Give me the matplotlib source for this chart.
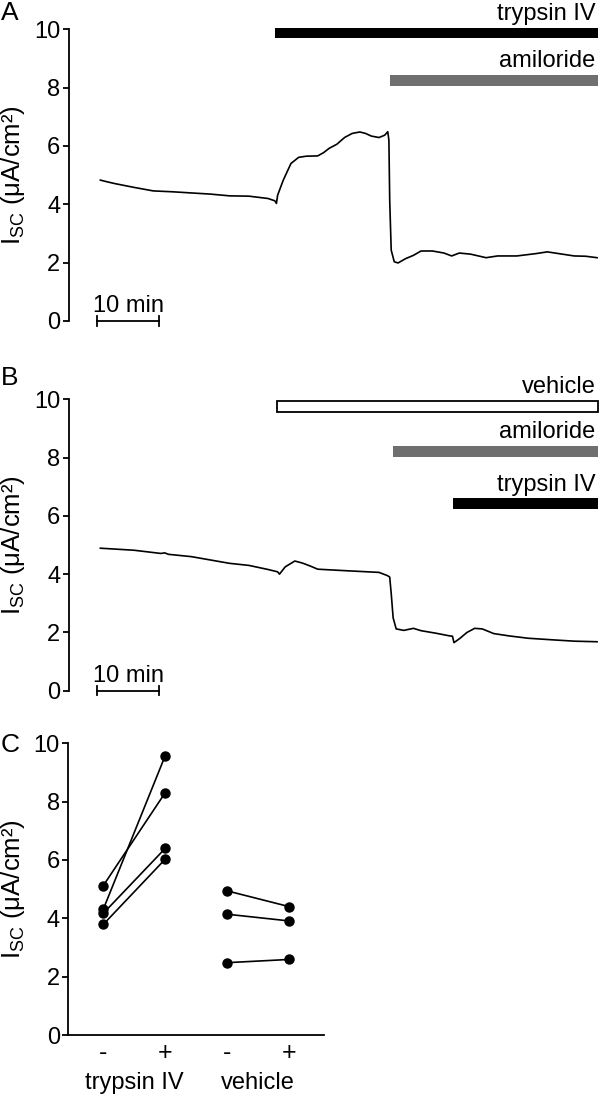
#!/usr/bin/env python3
from matplotlib import pyplot as plt

plt.rcParams['font.family'] = ['Liberation Sans', 'DejaVu Sans']
plt.rcParams['mathtext.default'] = 'regular'

# ---- panel A: trypsin IV then amiloride (time in min, Isc in uA/cm2)
a_time = [0.55, 1.66, 2.88, 5.95, 9.02, 12.08, 15.15, 18.22, 21.28, 24.35, 27.42,
          28.52, 28.77, 28.96, 29.87, 31.10, 32.33, 33.55, 35.39, 36.32, 37.23,
          38.46, 39.69, 40.91, 42.14, 43.06, 43.98, 45.21, 46.13, 46.62, 46.80,
          46.93, 47.17, 47.66, 48.27, 49.50, 50.73, 51.95, 53.79, 55.63, 56.86,
          58.09, 59.93, 62.38, 64.22, 67.30, 70.36, 72.20, 74.04, 76.50, 78.33, 80.17]
a_isc = [4.83, 4.77, 4.71, 4.58, 4.46, 4.43, 4.39, 4.35, 4.29, 4.28, 4.20,
         4.12, 4.03, 4.31, 4.83, 5.40, 5.61, 5.65, 5.66, 5.77, 5.92,
         6.06, 6.29, 6.43, 6.48, 6.43, 6.34, 6.29, 6.37, 6.49, 6.20,
         4.14, 2.43, 2.03, 1.99, 2.14, 2.25, 2.40, 2.40, 2.33, 2.23,
         2.33, 2.29, 2.17, 2.23, 2.23, 2.31, 2.37, 2.31, 2.23, 2.22, 2.17]

# ---- panel B: vehicle, amiloride, then trypsin IV
b_time = [0.55, 2.88, 5.95, 10.25, 10.86, 11.47, 15.15, 21.28, 24.35, 27.42,
          28.96, 29.26, 30.18, 31.72, 32.94, 34.17, 35.39, 39.69, 43.37, 45.21,
          46.56, 46.93, 47.17, 47.48, 47.97, 49.20, 50.73, 51.95, 54.41, 56.56,
          56.99, 57.23, 58.09, 59.32, 60.55, 61.77, 63.61, 66.07, 69.13, 73.43,
          76.50, 80.17]
b_isc = [4.89, 4.86, 4.82, 4.71, 4.73, 4.68, 4.60, 4.37, 4.30, 4.16,
         4.08, 4.00, 4.25, 4.45, 4.38, 4.28, 4.17, 4.12, 4.08, 4.06,
         3.95, 3.90, 3.34, 2.50, 2.12, 2.07, 2.14, 2.06, 1.97, 1.88,
         1.87, 1.65, 1.78, 2.00, 2.14, 2.12, 1.96, 1.88, 1.80, 1.74,
         1.70, 1.68]

# treatment bars: (label, start min, end min, level, style)
a_bars = [('trypsin IV', 28.6, 80.3, 9.69, 'black'),
          ('amiloride', 46.9, 80.3, 8.05, 'gray')]
b_bars = [('vehicle', 28.8, 80.3, 9.57, 'open'),
          ('amiloride', 47.5, 80.3, 8.01, 'gray'),
          ('trypsin IV', 57.1, 80.3, 6.24, 'black')]

# ---- panel C: paired values
c_groups = ['trypsin IV', 'vehicle']
c_ticks = ['-', '+', '-', '+']
tryp_minus = [4.31, 5.12, 4.17, 3.79]
tryp_plus = [9.58, 8.31, 6.40, 6.03]
veh_minus = [4.94, 4.14, 2.48]
veh_plus = [4.40, 3.91, 2.59]

FS = 17
LFS = 18.5
GRAY = '#6f6f6f'
ylab = 'I$_{SC}$ (μA/cm²)'

fig = plt.figure(figsize=(6, 10.97), dpi=100)
H = 1097.0


def style_yaxis(ax):
    for s in ['top', 'right', 'bottom']:
        ax.spines[s].set_visible(False)
    ax.spines['left'].set_linewidth(1.3)
    ax.set_ylim(0, 10)
    ax.set_yticks([0, 2, 4, 6, 8, 10])
    ax.tick_params(axis='y', direction='out', length=4, width=1.3, pad=2, labelsize=FS)


def trace_panel(rect, t, isc, bars):
    ax = fig.add_axes(rect)
    style_yaxis(ax)
    ax.set_xlim(-4.56, 80.4)
    ax.set_xticks([])
    ax.plot(t, isc, color='black', lw=1.2)
    for label, t0, t1, y0, kind in bars:
        h = 0.36 if kind != 'gray' else 0.38
        if kind == 'open':
            ax.barh(y0, t1 - t0, left=t0, height=h, align='edge', color='white',
                    edgecolor='black', linewidth=1.3, clip_on=False)
        else:
            ax.barh(y0, t1 - t0, left=t0, height=h, align='edge',
                    color='black' if kind == 'black' else GRAY, clip_on=False)
        ax.text(79.9, y0 + h + 0.27, label, ha='right', va='baseline', fontsize=FS,
                clip_on=False)
    # 10 min scale bar
    ax.plot([0, 10], [0, 0], color='black', lw=1.3, clip_on=False)
    for x in [0, 10]:
        ax.plot([x, x], [-0.16, 0.16], color='black', lw=1.3, clip_on=False)
    ax.text(5, 0.3, '10 min', ha='center', va='baseline', fontsize=FS)
    ax.set_ylabel(ylab, fontsize=LFS)
    ax.yaxis.set_label_coords(-0.078, 0.5)
    return ax


axA = trace_panel([68.5 / 600, 1 - 321 / H, 530 / 600, 291.7 / H], a_time, a_isc, a_bars)
axB = trace_panel([68.5 / 600, 1 - 690.7 / H, 530 / 600, 291.4 / H], b_time, b_isc, b_bars)

# panel C
axC = fig.add_axes([68.3 / 600, 1 - 1035 / H, 255.7 / 600, 291.7 / H])
style_yaxis(axC)
axC.spines['bottom'].set_visible(True)
axC.spines['bottom'].set_linewidth(1.3)
axC.set_xlim(0.436, 4.56)
for lo, hi in zip(tryp_minus, tryp_plus):
    axC.plot([1, 2], [lo, hi], color='black', lw=1.2, marker='o', ms=6.5)
for lo, hi in zip(veh_minus, veh_plus):
    axC.plot([3, 4], [lo, hi], color='black', lw=1.2, marker='o', ms=6.5)
axC.set_xticks([1, 2, 3, 4])
axC.set_xticklabels(c_ticks, fontsize=FS + 1)
axC.tick_params(axis='x', length=0, pad=4)
for i, g in enumerate(c_groups):
    axC.text(1.5 + 2 * i, -1.65, g, ha='center', va='center', fontsize=FS, clip_on=False)
axC.set_ylabel(ylab, fontsize=LFS)
axC.yaxis.set_label_coords(-0.1615, 0.5)

# panel letters
for letter, ypx in [('A', 12.5), ('B', 378), ('C', 745)]:
    fig.text(10 / 600, 1 - ypx / H, letter, ha='center', va='center', fontsize=19)

fig.savefig('out.png', dpi=100)
